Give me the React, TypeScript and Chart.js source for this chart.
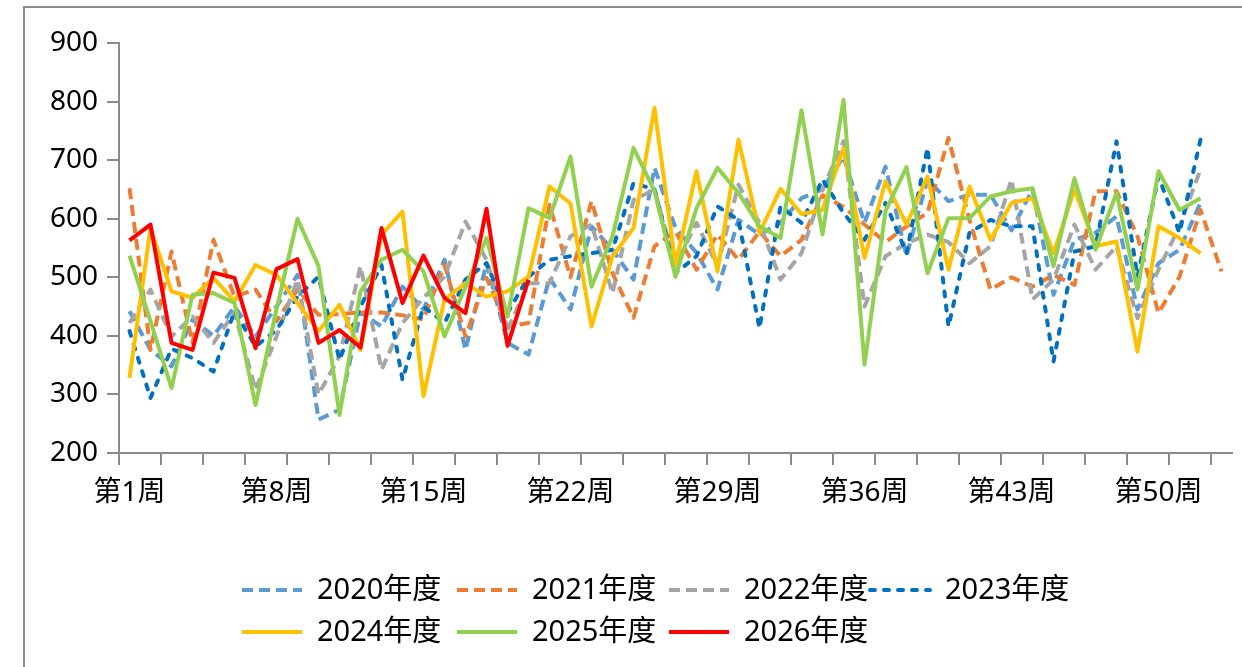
import { useEffect, useRef } from "react";
import { Chart, registerables } from "chart.js";

Chart.register(...registerables);

// Week categories and axis settings
const weeks: string[] = Array.from({ length: 53 }, (_, i) => `第${i + 1}周`);
const labelEvery = 7;
const yMin = 200;
const yMax = 900;
const yStep = 100;

// Weekly values per season
const s2020 = [442, 376, 348, 428, 400, 450, 399, 450, 504, 257, 274, 440, 416, 484, 445, 530, 376, 524, 388, 368, 499, 445, 587, 547, 496, 687, 584, 542, 479, 598, 573, 593, 635, 650, 706, 593, 689, 536, 667, 630, 641, 641, 580, 650, 470, 564, 576, 604, 445, 524, 547, 627];
const s2021 = [652, 376, 544, 388, 564, 467, 479, 425, 479, 436, 437, 440, 440, 435, 428, 521, 399, 499, 416, 422, 624, 500, 630, 507, 431, 553, 578, 513, 573, 530, 578, 536, 564, 640, 620, 590, 560, 587, 610, 738, 598, 479, 500, 484, 504, 487, 647, 647, 570, 439, 501, 615, 510];
const s2022 = [422, 479, 399, 433, 388, 440, 308, 399, 496, 300, 365, 519, 342, 422, 465, 501, 595, 530, 410, 490, 490, 570, 590, 473, 632, 650, 520, 593, 519, 658, 593, 496, 541, 650, 732, 450, 536, 558, 573, 560, 524, 553, 667, 462, 496, 590, 513, 553, 430, 513, 587, 684];
const s2023 = [408, 294, 378, 362, 339, 442, 382, 410, 467, 501, 359, 450, 521, 325, 450, 422, 496, 524, 439, 501, 530, 536, 541, 547, 661, 650, 507, 536, 621, 598, 413, 621, 593, 667, 610, 564, 627, 541, 721, 416, 576, 598, 587, 587, 356, 544, 553, 732, 501, 672, 576, 735];
const s2024 = [328, 584, 476, 465, 499, 459, 521, 504, 456, 408, 453, 376, 573, 612, 297, 462, 490, 467, 476, 501, 655, 626, 416, 536, 584, 789, 521, 681, 510, 735, 576, 651, 608, 615, 720, 533, 664, 590, 672, 513, 655, 564, 627, 635, 541, 650, 553, 561, 373, 587, 567, 541];
const s2025 = [537, 425, 311, 470, 473, 456, 282, 445, 600, 519, 265, 476, 530, 547, 510, 399, 484, 567, 433, 618, 601, 706, 484, 570, 721, 647, 501, 618, 687, 644, 587, 567, 785, 573, 803, 351, 613, 688, 507, 601, 601, 638, 647, 652, 519, 669, 547, 644, 479, 681, 615, 635];
const s2026 = [563, 590, 388, 376, 508, 499, 379, 514, 531, 388, 410, 380, 584, 456, 537, 465, 439, 617, 383, 496];

const seriesNames = ["2020年度", "2021年度", "2022年度", "2023年度", "2024年度", "2025年度", "2026年度"];
const seriesValues = [s2020, s2021, s2022, s2023, s2024, s2025, s2026];
const seriesColors = ["#5B9BD5", "#ED7D31", "#A5A5A5", "#0070C0", "#FFC000", "#92D050", "#FF0000"];
const seriesDash: number[][] = [[11, 6], [11, 6], [11, 6], [5, 9], [], [], []];
const seriesCap = ["butt", "butt", "butt", "round", "butt", "butt", "butt"];

const FONT = '"Noto Sans", "Noto Sans CJK SC", sans-serif';
const AXIS = "#8c8c8c";

// Two-row legend under the plot, drawn from the dataset styles
const legendPlugin = {
  id: "bottomLegend",
  afterDraw(chart: any) {
    const ctx = chart.ctx as CanvasRenderingContext2D;
    const cols = [240, 455, 667, 868];
    const rows = [590, 632];
    chart.data.datasets.forEach((ds: any, i: number) => {
      const x = cols[i % 4];
      const y = rows[Math.floor(i / 4)];
      ctx.save();
      ctx.strokeStyle = ds.borderColor;
      ctx.lineWidth = ds.borderWidth;
      ctx.lineCap = ds.borderCapStyle || "butt";
      ctx.setLineDash(ds.borderDash || []);
      ctx.beginPath();
      ctx.moveTo(x + 2, y);
      ctx.lineTo(x + 62, y);
      ctx.stroke();
      ctx.setLineDash([]);
      ctx.fillStyle = "#000";
      ctx.font = `29px ${FONT}`;
      ctx.textBaseline = "middle";
      ctx.textAlign = "left";
      ctx.fillText(ds.label, x + 77, y + 1, 126);
      ctx.restore();
    });
  },
};

export default function App() {
  const canvasRef = useRef<HTMLCanvasElement | null>(null);

  useEffect(() => {
    if (!canvasRef.current) return;
    const datasets = seriesNames.map((name, i) => ({
      label: name,
      data: seriesValues[i],
      borderColor: seriesColors[i],
      backgroundColor: seriesColors[i],
      borderWidth: 4,
      borderDash: seriesDash[i],
      borderCapStyle: seriesCap[i] as CanvasLineCap,
      borderJoinStyle: "round" as CanvasLineJoin,
      pointRadius: 0,
      pointHoverRadius: 0,
      tension: 0,
      fill: false,
      order: seriesNames.length - 1 - i,
    }));

    const chart = new Chart(canvasRef.current, {
      type: "line",
      data: { labels: weeks, datasets },
      plugins: [legendPlugin],
      options: {
        responsive: false,
        animation: false,
        devicePixelRatio: 1,
        layout: { padding: { left: 0, top: 43, right: 10, bottom: 154 } },
        plugins: {
          legend: { display: false },
          tooltip: { enabled: false },
          title: { display: false },
        },
        scales: {
          x: {
            type: "category",
            offset: true,
            afterFit: (s: any) => {
              s.height = 60;
            },
            grid: {
              offset: true,
              drawOnChartArea: false,
              drawTicks: true,
              tickLength: 12,
              lineWidth: 2,
              color: (c: any) => (typeof c.index === "number" && c.index % 2 === 0 ? AXIS : "rgba(0,0,0,0)"),
            },
            border: { display: true, color: AXIS, width: 2 },
            ticks: {
              autoSkip: false,
              maxRotation: 0,
              minRotation: 0,
              padding: 11,
              color: "#000",
              font: { family: FONT, size: 28 },
              callback: (_v: any, idx: number) => (idx % labelEvery === 0 ? weeks[idx] : ""),
            },
          },
          y: {
            min: yMin,
            max: yMax,
            afterFit: (s: any) => {
              s.width = 119;
            },
            grid: {
              drawOnChartArea: false,
              drawTicks: true,
              tickLength: 12,
              lineWidth: 2,
              color: AXIS,
            },
            border: { display: true, color: AXIS, width: 2 },
            ticks: {
              stepSize: yStep,
              padding: 9,
              color: "#000",
              font: { family: FONT, size: 28 },
            },
          },
        },
      },
    });
    return () => chart.destroy();
  }, []);

  return (
    <div style={{ position: "absolute", left: 0, top: 0, width: 1242, height: 667, overflow: "hidden", background: "#fff" }}>
      <div
        style={{
          position: "absolute",
          left: 23,
          top: 6,
          width: 1219,
          height: 661,
          boxSizing: "border-box",
          borderLeft: `2px solid ${AXIS}`,
          borderTop: `2px solid ${AXIS}`,
        }}
      />
      <canvas ref={canvasRef} width={1242} height={667} style={{ position: "absolute", left: 0, top: 0, display: "block" }} />
    </div>
  );
}
